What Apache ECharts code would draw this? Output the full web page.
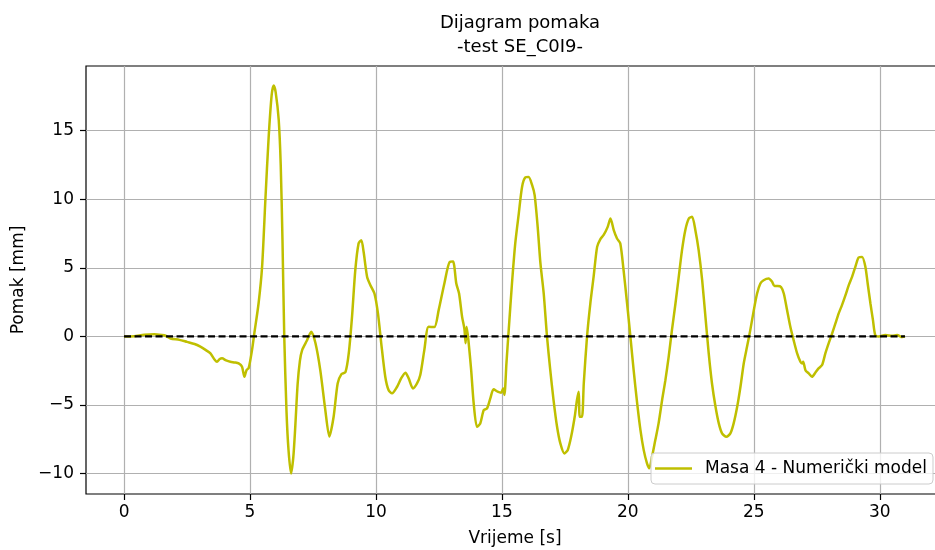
<!DOCTYPE html>
<html>
<head>
<meta charset="utf-8">
<title>Dijagram pomaka</title>
<script src="https://cdn.jsdelivr.net/npm/echarts@6/dist/echarts.min.js"></script>
<style>
  html, body { margin: 0; padding: 0; background: #fff; }
  #chart { width: 935px; height: 550px; }
</style>
</head>
<body>
<div id="chart"></div>
<script>
// vrijeme [s] i pomak [mm], ocitano sa slike
const vrijeme = [
  0, 0.4, 0.8, 1.2, 1.5, 1.65, 1.84, 2.2, 2.5, 2.8, 3.03, 3.25, 3.43, 3.6, 3.69, 3.8, 3.89, 4.05, 4.22, 4.4,
  4.55, 4.68, 4.78, 4.86, 4.95, 5.08, 5.17, 5.34, 5.48, 5.61, 5.74, 5.86, 5.94, 6.02, 6.14, 6.22, 6.29, 6.36,
  6.45, 6.53, 6.63, 6.72, 6.8, 6.89, 6.98, 7.07, 7.26, 7.43, 7.6, 7.79, 7.99, 8.15, 8.32, 8.48, 8.63, 8.79,
  8.92, 9.05, 9.18, 9.31, 9.42, 9.51, 9.65, 9.78, 9.94, 10.08, 10.21, 10.37, 10.5, 10.64, 10.84, 11.0, 11.17,
  11.3, 11.47, 11.63, 11.76, 11.92, 12.09, 12.32, 12.49, 12.72, 12.93, 13.06, 13.19, 13.3, 13.42, 13.51,
  13.56, 13.6, 13.67, 13.78, 13.88, 14.01, 14.14, 14.28, 14.41, 14.54, 14.67, 14.83, 14.97, 15.05, 15.1,
  15.18, 15.27, 15.4, 15.53, 15.67, 15.8, 15.93, 16.06, 16.2, 16.3, 16.42, 16.53, 16.66, 16.79, 16.92, 17.05,
  17.19, 17.32, 17.48, 17.61, 17.75, 17.89, 17.98, 18.05, 18.09, 18.18, 18.25, 18.38, 18.51, 18.64, 18.78,
  18.91, 19.04, 19.2, 19.31, 19.44, 19.57, 19.7, 19.83, 19.97, 20.1, 20.23, 20.37, 20.5, 20.63, 20.76, 20.85,
  20.96, 21.09, 21.22, 21.36, 21.49, 21.62, 21.75, 21.89, 22.02, 22.15, 22.28, 22.42, 22.55, 22.68, 22.81,
  22.95, 23.08, 23.21, 23.34, 23.48, 23.61, 23.74, 23.91, 24.07, 24.2, 24.34, 24.47, 24.6, 24.73, 24.86, 25.0,
  25.13, 25.26, 25.39, 25.59, 25.72, 25.82, 25.95, 26.08, 26.19, 26.32, 26.45, 26.58, 26.72, 26.85, 26.92,
  26.96, 27.05, 27.18, 27.31, 27.44, 27.57, 27.71, 27.84, 27.97, 28.11, 28.24, 28.37, 28.5, 28.64, 28.77,
  28.9, 29.03, 29.16, 29.3, 29.43, 29.52, 29.63, 29.73, 29.82, 29.96, 30.22, 30.49, 30.69, 30.89, 31.0
]
const pomak = [
  0, 0.02, 0.12, 0.15, 0.1, 0.05, -0.15, -0.25, -0.4, -0.55, -0.75, -1.0, -1.24, -1.7, -1.85, -1.65, -1.6, -1.75, -1.85, -1.9,
  -1.97, -2.2, -2.94, -2.46, -2.29, -1.0, 0.2, 2.4, 5.07, 9.93, 14.5, 17.6, 18.3, 17.8, 15.8, 12.5, 7.0, 0,
  -5.5, -8.3, -10.0, -8.8, -6.5, -3.5, -1.8, -1.0, -0.3, 0.34, -0.5, -2.46, -5.37, -7.3, -5.86, -3.43, -2.75, -2.6,
  -1.24, 1.43, 4.83, 6.78, 7.02, 6.17, 4.34, 3.74, 3.13, 1.68, -0.5, -2.94, -3.91, -4.15, -3.67, -3.06, -2.65,
  -3.06, -3.79, -3.43, -2.82, -1.0, 0.7, 0.68, 1.92, 3.9, 5.44, 5.46, 3.86, 3.13, 1.43, 0.58,
  -0.5, 0.7, -0.27, -2.46, -4.88, -6.59, -6.35, -5.37, -5.25, -4.52, -3.86, -4.03, -4.1, -3.79, -4.27,
  -1.97, 0.46, 3.86, 6.78, 8.96, 10.9, 11.59, 11.62, 11.03, 10.3, 7.99, 5.32, 3.13, 0, -2.46, -4.64,
  -6.59, -7.8, -8.53, -8.3, -7.3, -5.86, -4.64, -4.03, -5.86, -5.86, -3.43, 0, 2.4, 4.34, 6.53,
  7.1, 7.4, 7.99, 8.6, 7.75, 7.14, 6.78, 4.83, 2.4, 0, -2.46, -4.88, -6.83, -8.29, -9.26, -9.62,
  -8.78, -7.56, -6.34, -4.64, -3.19, -1.49, 0.46, 2.4, 4.34, 6.29, 7.75, 8.6, 8.72, 7.75, 6.29,
  4.1, 1.43, -1.24, -3.43, -5.13, -6.34, -7.07, -7.32, -7.07, -6.34, -5.13, -3.67, -1.97, -0.76, 0.46, 1.92,
  3.13, 3.86, 4.1, 4.22, 4.0, 3.67, 3.67, 3.6, 3.13, 1.92, 0.7, -0.27, -1.24, -1.85, -1.97,
  -1.85, -2.46, -2.7, -2.94, -2.65, -2.33, -2.09, -1.24, -0.51, 0.22, 0.95, 1.68, 2.28, 3.01, 3.74,
  4.34, 5.07, 5.76, 5.8, 5.07, 3.86, 2.4, 1.19, 0.1, 0, 0.1, 0.05, 0.1, -0.05, 0
]
// nulta linija
const nultaX = [0, 31]
const nultaY = [0, 0]

const xTicks = [0, 5, 10, 15, 20, 25, 30]
const yTicks = [-10, -5, 0, 5, 10, 15]

const font = 'DejaVu Sans'
const minus = v => String(v).replace('-', '\u2212')

const chart = echarts.init(document.getElementById('chart'))

chart.setOption({
  animation: false,
  title: {
    text: 'Dijagram pomaka\n-test SE_C0I9-',
    left: 515,
    top: 6,
    textAlign: 'center',
    textStyle: {
      fontFamily: font,
      fontSize: 18,
      fontWeight: 'normal',
      color: '#000',
      lineHeight: 24
    }
  },
  grid: {
    left: 86,
    top: 66,
    width: 858,
    height: 428,
    outerBoundsMode: 'none',
    show: true,
    borderColor: '#000',
    borderWidth: 1.2,
    backgroundColor: 'transparent'
  },
  legend: {
    data: ['Masa 4 - Numerički model'],
    left: 651,
    top: 453,
    padding: [7, 6, 7, 4],
    icon: 'rect',
    itemWidth: 37,
    itemHeight: 2.5,
    backgroundColor: 'rgba(255,255,255,0.8)',
    borderColor: '#cccccc',
    borderWidth: 1,
    borderRadius: 4,
    textStyle: {
      fontFamily: font,
      fontSize: 17,
      color: '#000',
      padding: [0, 0, 0, 8]
    }
  },
  xAxis: {
    type: 'value',
    min: -1.51,
    max: 32.55,
    name: 'Vrijeme [s]',
    nameLocation: 'middle',
    nameGap: 36,
    nameTextStyle: { fontFamily: font, fontSize: 17, color: '#000' },
    axisLine: { show: false, onZero: false },
    axisTick: {
      show: true,
      customValues: xTicks,
      length: 6,
      lineStyle: { color: '#000', width: 1.2 }
    },
    axisLabel: {
      customValues: xTicks,
      margin: 10,
      fontFamily: font,
      fontSize: 17,
      color: '#000',
      formatter: minus
    },
    splitLine: {
      show: true,
      customValues: xTicks,
      lineStyle: { color: '#b0b0b0', width: 1.2 }
    }
  },
  yAxis: {
    type: 'value',
    min: -11.49,
    max: 19.72,
    name: 'Pomak [mm]',
    nameLocation: 'middle',
    nameGap: 55,
    nameRotate: 90,
    nameTextStyle: { fontFamily: font, fontSize: 17, color: '#000' },
    axisLine: { show: false, onZero: false },
    axisTick: {
      show: true,
      customValues: yTicks,
      length: 6,
      lineStyle: { color: '#000', width: 1.2 }
    },
    axisLabel: {
      customValues: yTicks,
      margin: 12,
      fontFamily: font,
      fontSize: 17,
      color: '#000',
      formatter: minus
    },
    splitLine: {
      show: true,
      customValues: yTicks,
      lineStyle: { color: '#b0b0b0', width: 1.2 }
    }
  },
  series: [
    {
      name: 'Masa 4 - Numerički model',
      type: 'line',
      data: vrijeme.map((t, i) => [t, pomak[i]]),
      symbol: 'none',
      smooth: 0.25,
      lineStyle: { color: '#bfbf00', width: 2.5 },
      itemStyle: { color: '#bfbf00' }
    },
    {
      name: 'nula',
      type: 'line',
      data: nultaX.map((t, i) => [t, nultaY[i]]),
      symbol: 'none',
      lineStyle: { color: '#000', width: 2.2, type: [7, 3.5] },
      z: 3
    }
  ]
})
</script>
</body>
</html>
